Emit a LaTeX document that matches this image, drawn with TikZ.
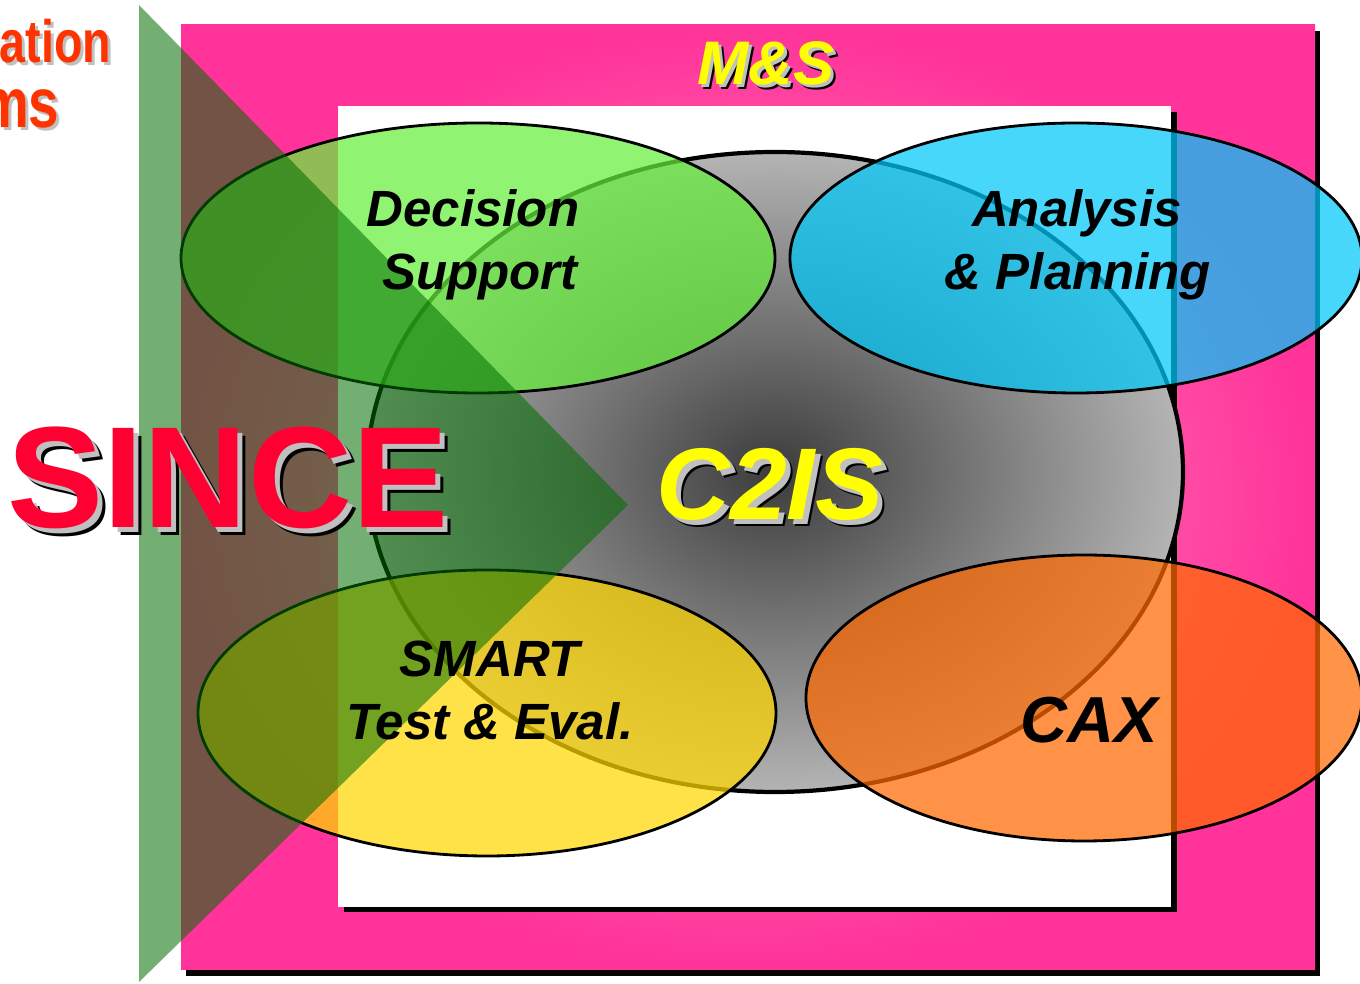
\documentclass[tikz,border=0pt]{standalone}
\usepackage{fontspec}
\setmainfont{Liberation Sans}
\newfontfamily\narrowfont[FakeStretch=0.78]{Liberation Sans}
\definecolor{hotpink}{RGB}{255,51,153}
\definecolor{softpink}{RGB}{255,150,200}
\definecolor{sincered}{RGB}{255,0,51}
\definecolor{sunyellow}{RGB}{255,255,0}
\definecolor{shadegray}{RGB}{192,192,192}
\definecolor{leafgreen}{RGB}{102,240,60}
\definecolor{skyblue}{RGB}{0,200,250}
\definecolor{goldyellow}{RGB}{255,215,0}
\definecolor{deeporange}{RGB}{255,105,0}
\definecolor{wedgegreen}{RGB}{0,110,0}
\definecolor{flame}{RGB}{255,51,0}
\begin{document}
\begin{tikzpicture}[x=0.1mm,y=-0.1mm,
	bubble/.style={draw=black,line width=0.8pt,fill opacity=0.72},
	caption/.style={font=\bfseries\itshape\fontsize{14.5}{17}\selectfont,anchor=base,inner sep=0pt},
	bigtext/.style={anchor=base,inner sep=0pt}]
	\useasboundingbox (0,0) rectangle (1360,984);
	% outer M&S frame
	\fill[black] (186,31) rectangle (1320,976);
	\shade[inner color=softpink,outer color=hotpink] (181,25) rectangle (1315,970);
	\fill[black] (344,112) rectangle (1177,912);
	\fill[white] (338,106) rectangle (1171,907);
	% ellipses
	\coordinate (core) at (775,472);
	\coordinate (decision) at (478,258);
	\coordinate (analysis) at (1076,258);
	\coordinate (smart) at (487,713);
	\coordinate (cax) at (1084,698);
	\shadedraw[line width=1.2pt,inner color={rgb,255:red,60;green,60;blue,60},outer color={rgb,255:red,180;green,180;blue,180}]
		(core) ellipse [x radius=408,y radius=320];
	\filldraw[bubble,fill=leafgreen] (decision) ellipse [x radius=297,y radius=135];
	\filldraw[bubble,fill=skyblue] (analysis) ellipse [x radius=286,y radius=135];
	\filldraw[bubble,fill=goldyellow] (smart) ellipse [x radius=289,y radius=143];
	\filldraw[bubble,fill=deeporange] (cax) ellipse [x radius=278,y radius=143];
	% SINCE wedge
	\coordinate (wtop) at (139,5);
	\coordinate (wbot) at (139,982);
	\coordinate (wtip) at (628,505);
	\fill[wedgegreen,fill opacity=0.55] (wtop) -- (wtip) -- (wbot) -- cycle;
	% labels
	\node[caption] (ds1) at (473,227) {Decision};
	\node[caption] (ds2) at (480,290) {Support};
	\node[caption] (ap1) at (1077,227) {Analysis};
	\node[caption] (ap2) at (1078,290) {\& Planning};
	\node[caption] (sm1) at (490,677) {SMART};
	\node[caption] (sm2) at (490,740) {Test \& Eval.};
	\node[bigtext,font=\bfseries\itshape\fontsize{18.5}{20}\selectfont] (caxlabel) at (1089,743) {CAX};
	% shadowed titles
	\node[bigtext,font=\bfseries\itshape\fontsize{17.5}{20}\selectfont,text=black] (ms-k) at (771,90) {M\&S};
	\node[bigtext,font=\bfseries\itshape\fontsize{17.5}{20}\selectfont,text=shadegray] (ms-g) at (769,88) {M\&S};
	\node[bigtext,font=\bfseries\itshape\fontsize{17.5}{20}\selectfont,text=sunyellow] (ms-t) at (766,85) {M\&S};
	\node[bigtext,font=\bfseries\itshape\fontsize{29}{30}\selectfont,text=black] (c2is-k) at (777,527) {C2IS};
	\node[bigtext,font=\bfseries\itshape\fontsize{29}{30}\selectfont,text=shadegray] (c2is-g) at (775,525) {C2IS};
	\node[bigtext,font=\bfseries\itshape\fontsize{29}{30}\selectfont,text=sunyellow] (c2is-t) at (770,520) {C2IS};
	\node[bigtext,font=\bfseries\fontsize{41}{42}\selectfont,text=black] (since-k) at (236,536) {SINCE};
	\node[bigtext,font=\bfseries\fontsize{41}{42}\selectfont,text=shadegray] (since-g) at (233,533) {SINCE};
	\node[bigtext,font=\bfseries\fontsize{41}{42}\selectfont,text=sincered] (since-t) at (228,528) {SINCE};
	% cut-off caption at the left edge
	\node[anchor=base east,inner sep=0pt,font=\narrowfont\bfseries\fontsize{17}{18}\selectfont,text=shadegray] (ation-g) at (115,66) {ation};
	\node[anchor=base east,inner sep=0pt,font=\narrowfont\bfseries\fontsize{17}{18}\selectfont,text=flame] (ation-t) at (112,63) {ation};
	\node[anchor=base east,inner sep=0pt,font=\narrowfont\bfseries\fontsize{20}{21}\selectfont,text=shadegray] (ms2-g) at (63,131) {ms};
	\node[anchor=base east,inner sep=0pt,font=\narrowfont\bfseries\fontsize{20}{21}\selectfont,text=flame] (ms2-t) at (60,128) {ms};
\end{tikzpicture}
\end{document}
